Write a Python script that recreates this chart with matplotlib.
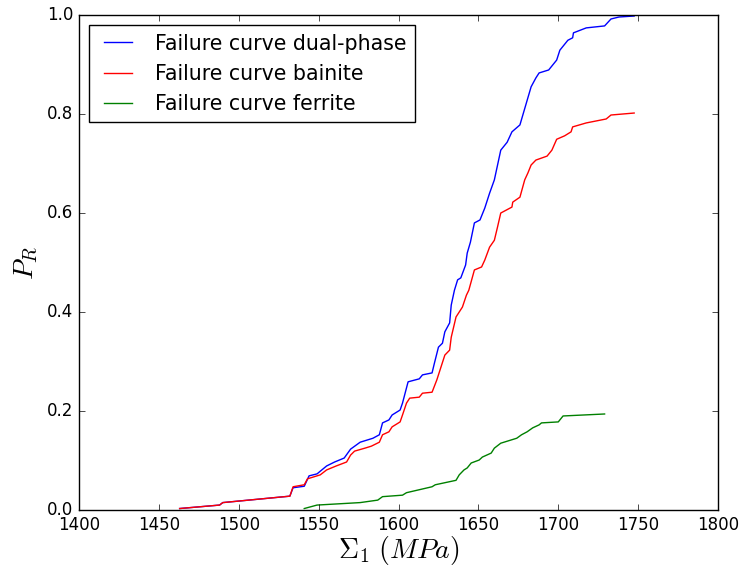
import matplotlib
matplotlib.use('Agg')
import matplotlib.pyplot as plt

plt.style.use('classic')

# failure curve dual-phase
dp_sigma = [1463, 1488, 1490, 1532, 1534, 1541, 1544, 1549, 1555, 1560, 1566, 1570,
            1576, 1584, 1588, 1590, 1594, 1596, 1601, 1602.5, 1606, 1613, 1615, 1621,
            1622.5, 1625, 1627.5, 1629, 1632, 1633, 1635, 1637, 1639, 1642, 1643, 1645,
            1647.5, 1651, 1654, 1657, 1660, 1664, 1668, 1671, 1676, 1680, 1683, 1686,
            1688, 1694, 1699, 1701, 1706, 1709, 1709.5, 1717.5, 1729, 1733, 1738, 1747.5]
dp_pr = [0.003, 0.010, 0.015, 0.028, 0.045, 0.048, 0.069, 0.073, 0.089, 0.097, 0.105, 0.123,
         0.137, 0.145, 0.152, 0.176, 0.182, 0.192, 0.202, 0.216, 0.259, 0.265, 0.273, 0.277,
         0.297, 0.329, 0.337, 0.360, 0.378, 0.414, 0.444, 0.465, 0.469, 0.495, 0.519, 0.541,
         0.580, 0.586, 0.610, 0.640, 0.667, 0.727, 0.743, 0.764, 0.778, 0.822, 0.855, 0.873,
         0.883, 0.889, 0.909, 0.929, 0.949, 0.954, 0.964, 0.974, 0.978, 0.992, 0.996, 0.998]

# failure curve bainite
bai_sigma = [1463, 1488, 1490, 1532, 1534, 1541, 1543, 1551, 1555, 1561, 1567.5, 1570,
             1572.5, 1579, 1583, 1588, 1590, 1594, 1596, 1601, 1602.5, 1605, 1607, 1613,
             1615, 1621, 1624, 1626, 1629, 1632, 1633, 1636, 1640, 1642.5, 1644, 1647.5,
             1652, 1654, 1657, 1660, 1662, 1664, 1671, 1671.5, 1676, 1679, 1681, 1683,
             1686, 1693, 1696, 1699, 1704, 1708, 1709, 1717.5, 1730, 1733, 1747.5]
bai_pr = [0.003, 0.010, 0.015, 0.028, 0.047, 0.051, 0.063, 0.071, 0.081, 0.089, 0.097, 0.111,
          0.119, 0.125, 0.129, 0.137, 0.152, 0.158, 0.168, 0.178, 0.192, 0.216, 0.226, 0.228,
          0.236, 0.238, 0.263, 0.283, 0.313, 0.323, 0.349, 0.390, 0.410, 0.434, 0.444, 0.485,
          0.491, 0.505, 0.531, 0.545, 0.572, 0.600, 0.612, 0.622, 0.632, 0.667, 0.681, 0.697,
          0.707, 0.715, 0.727, 0.749, 0.756, 0.764, 0.774, 0.782, 0.790, 0.798, 0.802]

# failure curve ferrite
fer_sigma = [1541, 1549, 1576, 1587, 1590, 1602.5, 1605, 1621, 1623, 1636, 1638, 1641,
             1643, 1645.5, 1650.5, 1652.5, 1658, 1660, 1664, 1674, 1677, 1680.5, 1684,
             1688, 1689.5, 1700, 1703, 1729]
fer_pr = [0.003, 0.010, 0.015, 0.020, 0.027, 0.030, 0.035, 0.047, 0.051, 0.060, 0.071, 0.081,
          0.085, 0.095, 0.101, 0.107, 0.115, 0.125, 0.135, 0.145, 0.152, 0.158, 0.166,
          0.172, 0.176, 0.178, 0.190, 0.194]

fig = plt.figure(figsize=(7.41, 5.67), dpi=100)
ax = fig.add_axes([0.1066, 0.1005, 0.8624, 0.873])
ax.plot(dp_sigma, dp_pr, 'b-', label='Failure curve dual-phase')
ax.plot(bai_sigma, bai_pr, 'r-', label='Failure curve bainite')
ax.plot(fer_sigma, fer_pr, 'g-', label='Failure curve ferrite')

ax.set_xlim(1400, 1800)
ax.set_ylim(0, 1.0)
ax.set_xlabel(r'$\Sigma_1\ (MPa)$', fontsize=20, labelpad=0.5)
ax.set_ylabel(r'$P_R$', fontsize=20)
ax.legend(loc='upper left', prop={'size': 14.8})

fig.savefig('out.png', dpi=100)
